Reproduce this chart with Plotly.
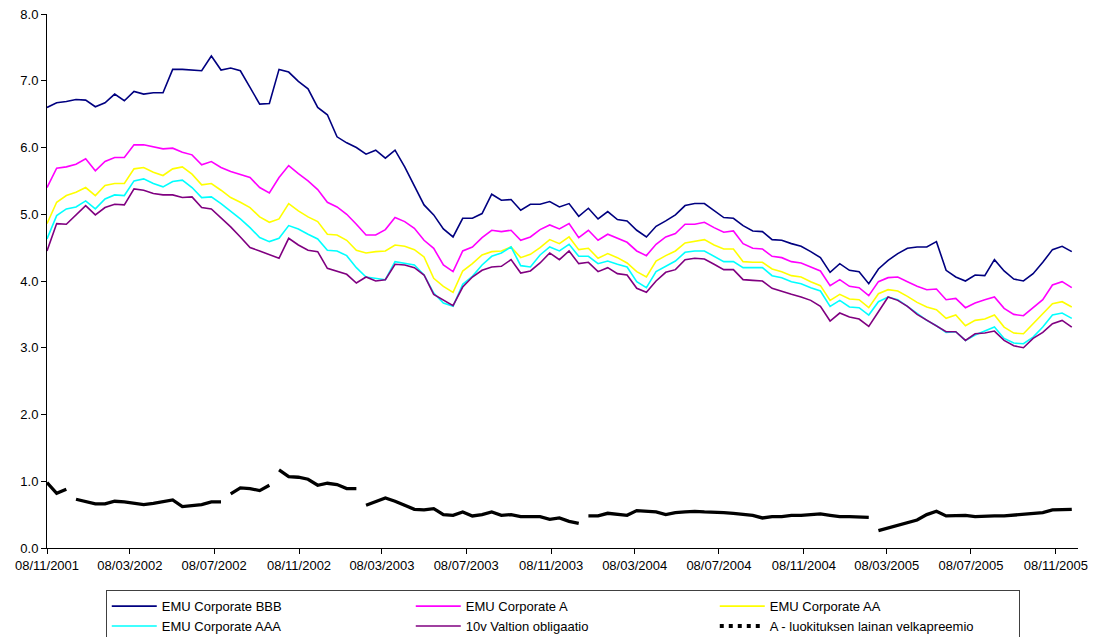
import pandas as pd
import plotly.graph_objects as go

# ---- data (biweekly observations from 08/11/2001) ----
start_date = "2001-11-08"
n_obs = 107

bbb = [6.60, 6.67, 6.69, 6.72, 6.71, 6.61, 6.67, 6.80, 6.70, 6.84,
       6.80, 6.82, 6.82, 7.17, 7.17, 7.16, 7.15, 7.37, 7.16, 7.19,
       7.15, 6.90, 6.65, 6.66, 7.17, 7.13, 6.99, 6.88, 6.60, 6.49,
       6.16, 6.07, 6.00, 5.90, 5.96, 5.84, 5.96, 5.71, 5.42, 5.14,
       4.99, 4.78, 4.66, 4.94, 4.94, 5.01, 5.30, 5.21, 5.22, 5.06,
       5.15, 5.15, 5.19, 5.11, 5.16, 4.97, 5.09, 4.93, 5.04, 4.92,
       4.90, 4.76, 4.66, 4.82, 4.90, 4.99, 5.13, 5.16, 5.16, 5.05,
       4.95, 4.94, 4.83, 4.75, 4.74, 4.62, 4.61, 4.56, 4.52, 4.44,
       4.35, 4.13, 4.26, 4.16, 4.14, 3.96, 4.18, 4.31, 4.41, 4.49,
       4.51, 4.51, 4.59, 4.16, 4.06, 4.00, 4.09, 4.08, 4.32, 4.15,
       4.03, 4.00, 4.11, 4.28, 4.47, 4.52, 4.44]

a_rating = [5.40, 5.69, 5.71, 5.75, 5.83, 5.65, 5.79, 5.85, 5.85, 6.04,
            6.04, 6.01, 5.98, 5.99, 5.93, 5.89, 5.74, 5.79, 5.70, 5.64,
            5.60, 5.55, 5.40, 5.32, 5.55, 5.73, 5.61, 5.50, 5.37, 5.18,
            5.11, 5.00, 4.85, 4.69, 4.69, 4.77, 4.95, 4.89, 4.79, 4.61,
            4.49, 4.24, 4.14, 4.45, 4.51, 4.65, 4.76, 4.74, 4.76, 4.61,
            4.66, 4.77, 4.84, 4.78, 4.86, 4.65, 4.76, 4.61, 4.70, 4.64,
            4.58, 4.45, 4.38, 4.55, 4.66, 4.71, 4.85, 4.85, 4.88, 4.80,
            4.73, 4.75, 4.56, 4.49, 4.48, 4.37, 4.35, 4.29, 4.27, 4.21,
            4.15, 3.93, 4.02, 3.92, 3.90, 3.78, 3.99, 4.05, 4.06, 3.99,
            3.92, 3.87, 3.88, 3.72, 3.74, 3.60, 3.67, 3.72, 3.76, 3.59,
            3.50, 3.48, 3.60, 3.72, 3.94, 3.99, 3.90]

aa_rating = [4.86, 5.18, 5.28, 5.33, 5.40, 5.28, 5.43, 5.46, 5.46, 5.68,
             5.70, 5.63, 5.58, 5.68, 5.71, 5.60, 5.44, 5.46, 5.36, 5.25,
             5.18, 5.10, 4.96, 4.88, 4.93, 5.16, 5.05, 4.96, 4.89, 4.70,
             4.69, 4.61, 4.46, 4.42, 4.44, 4.45, 4.54, 4.52, 4.47, 4.36,
             4.04, 3.92, 3.83, 4.15, 4.26, 4.39, 4.44, 4.45, 4.51, 4.35,
             4.40, 4.50, 4.62, 4.56, 4.66, 4.47, 4.49, 4.34, 4.41, 4.35,
             4.27, 4.14, 4.06, 4.30, 4.38, 4.45, 4.57, 4.60, 4.62, 4.54,
             4.48, 4.48, 4.29, 4.28, 4.28, 4.18, 4.14, 4.08, 4.06, 3.99,
             3.93, 3.71, 3.80, 3.73, 3.72, 3.60, 3.81, 3.87, 3.85, 3.77,
             3.68, 3.61, 3.57, 3.44, 3.49, 3.33, 3.41, 3.43, 3.49, 3.31,
             3.22, 3.21, 3.36, 3.50, 3.66, 3.69, 3.61]

aaa_rating = [4.63, 4.98, 5.08, 5.11, 5.20, 5.08, 5.23, 5.29, 5.28, 5.50,
              5.53, 5.46, 5.41, 5.49, 5.51, 5.40, 5.25, 5.26, 5.16, 5.05,
              4.93, 4.80, 4.65, 4.59, 4.64, 4.83, 4.78, 4.70, 4.63, 4.46,
              4.45, 4.38, 4.20, 4.06, 4.04, 4.02, 4.29, 4.27, 4.24, 4.09,
              3.82, 3.67, 3.62, 3.95, 4.07, 4.24, 4.37, 4.42, 4.51, 4.23,
              4.21, 4.39, 4.51, 4.45, 4.55, 4.37, 4.37, 4.26, 4.30, 4.25,
              4.21, 3.99, 3.90, 4.14, 4.22, 4.30, 4.43, 4.45, 4.45, 4.37,
              4.29, 4.29, 4.20, 4.20, 4.20, 4.08, 4.05, 3.99, 3.96, 3.90,
              3.85, 3.62, 3.71, 3.61, 3.60, 3.49, 3.69, 3.76, 3.72, 3.62,
              3.51, 3.41, 3.33, 3.23, 3.24, 3.11, 3.19, 3.25, 3.31, 3.14,
              3.07, 3.06, 3.16, 3.31, 3.49, 3.52, 3.44]

govt_10y = [4.45, 4.86, 4.85, 4.99, 5.13, 4.99, 5.10, 5.15, 5.14, 5.38,
            5.36, 5.31, 5.29, 5.29, 5.25, 5.26, 5.10, 5.08, 4.95, 4.81,
            4.66, 4.50, 4.45, 4.39, 4.34, 4.64, 4.54, 4.46, 4.44, 4.19,
            4.14, 4.10, 3.97, 4.06, 4.00, 4.02, 4.25, 4.24, 4.20, 4.09,
            3.80, 3.71, 3.63, 3.91, 4.06, 4.16, 4.21, 4.22, 4.32, 4.12,
            4.15, 4.27, 4.42, 4.32, 4.45, 4.26, 4.28, 4.14, 4.20, 4.11,
            4.09, 3.89, 3.83, 4.00, 4.13, 4.17, 4.32, 4.34, 4.33, 4.25,
            4.17, 4.17, 4.02, 4.01, 4.00, 3.89, 3.84, 3.80, 3.76, 3.71,
            3.62, 3.40, 3.52, 3.46, 3.43, 3.32, 3.54, 3.76, 3.71, 3.62,
            3.50, 3.41, 3.32, 3.24, 3.24, 3.11, 3.21, 3.22, 3.25, 3.11,
            3.03, 3.00, 3.14, 3.23, 3.36, 3.41, 3.31]

spread_a = [0.98, 0.82, 0.88, 0.73, 0.69, 0.66, 0.66, 0.70, 0.69, 0.67,
            0.65, 0.67, 0.69, 0.72, 0.62, 0.63, 0.65, 0.69, 0.69, 0.81,
            0.90, 0.89, 0.86, 0.94, 1.17, 1.07, 1.06, 1.03, 0.94, 0.97,
            0.95, 0.89, 0.89, 0.64, 0.69, 0.75, 0.70, 0.64, 0.58, 0.57,
            0.59, 0.50, 0.49, 0.54, 0.48, 0.50, 0.54, 0.49, 0.50, 0.47,
            0.47, 0.47, 0.43, 0.45, 0.40, 0.37, 0.48, 0.48, 0.52, 0.51,
            0.49, 0.56, 0.55, 0.54, 0.50, 0.53, 0.54, 0.55, 0.54, 0.54,
            0.53, 0.52, 0.50, 0.49, 0.45, 0.47, 0.47, 0.49, 0.49, 0.50,
            0.51, 0.49, 0.47, 0.47, 0.46, 0.46, 0.26, 0.30, 0.34, 0.39,
            0.42, 0.50, 0.55, 0.48, 0.48, 0.49, 0.47, 0.48, 0.48, 0.48,
            0.49, 0.50, 0.51, 0.53, 0.57, 0.58, 0.58]
# indices where the spread line restarts after a break
spread_breaks = [3, 19, 24, 33, 56, 86]

tick_dates = ["2001-11-08", "2002-03-08", "2002-07-08", "2002-11-08",
              "2003-03-08", "2003-07-08", "2003-11-08", "2004-03-08",
              "2004-07-08", "2004-11-08", "2005-03-08", "2005-07-08",
              "2005-11-08"]
tick_labels = ["08/11/2001", "08/03/2002", "08/07/2002", "08/11/2002",
               "08/03/2003", "08/07/2003", "08/11/2003", "08/03/2004",
               "08/07/2004", "08/11/2004", "08/03/2005", "08/07/2005",
               "08/11/2005"]

names = ["EMU Corporate BBB", "EMU Corporate A", "EMU Corporate AA",
         "EMU Corporate AAA", "10v Valtion obligaatio",
         "A - luokituksen lainan velkapreemio"]
colors = ["#000080", "#FF00FF", "#FFFF00", "#00FFFF", "#800080", "#000000"]

dates = list(pd.date_range(start_date, periods=n_obs, freq="14D"))

fig = go.Figure()
for vals, name, col in zip([bbb, a_rating, aa_rating, aaa_rating, govt_10y],
                           names[:5], colors[:5]):
    fig.add_trace(go.Scatter(x=dates[:len(vals)], y=vals, mode="lines",
                             name=name, line=dict(color=col, width=1.6)))

# spread line with breaks
sx, sy = [], []
for i, (d, v) in enumerate(zip(dates, spread_a)):
    if i in spread_breaks:
        sx.append(None)
        sy.append(None)
    sx.append(d)
    sy.append(v)
fig.add_trace(go.Scatter(x=sx, y=sy, mode="lines", name=names[5],
                         showlegend=False, connectgaps=False,
                         line=dict(color="black", width=3.3)))
# legend entry (dashed sample)
fig.add_trace(go.Scatter(x=[None], y=[None], mode="lines", name=names[5],
                         line=dict(color="black", width=4, dash="4px,5px")))

font_family = "Liberation Sans, Arial, sans-serif"
fig.update_layout(
    width=1090, height=629,
    margin=dict(l=39, r=20, t=6, b=89, autoexpand=False),
    paper_bgcolor="white", plot_bgcolor="white",
    font=dict(family=font_family, size=13, color="black"),
    showlegend=True,
    legend=dict(orientation="h", x=0.057, xanchor="left", y=-0.079,
                yanchor="top", entrywidth=244, itemwidth=45,
                bordercolor="#404040", borderwidth=1, bgcolor="white",
                font=dict(family=font_family, size=13, color="black"),
                tracegroupgap=0),
    xaxis=dict(type="date", range=["2001-11-08", "2005-12-10"],
               tickvals=tick_dates, ticktext=tick_labels,
               showgrid=False, zeroline=False, showline=True,
               linecolor="black", linewidth=1, ticks="outside",
               ticklen=5, tickcolor="black", ticklabeloverflow="allow",
               tickfont=dict(family=font_family, size=13, color="black")),
    yaxis=dict(range=[0, 8], dtick=1, tickformat=".1f", showgrid=False,
               zeroline=False, showline=True, linecolor="black",
               linewidth=1, ticks="outside", ticklen=5, tickcolor="black",
               ticklabeloverflow="allow",
               tickfont=dict(family=font_family, size=13, color="black")),
)

fig.write_html("out.html")
